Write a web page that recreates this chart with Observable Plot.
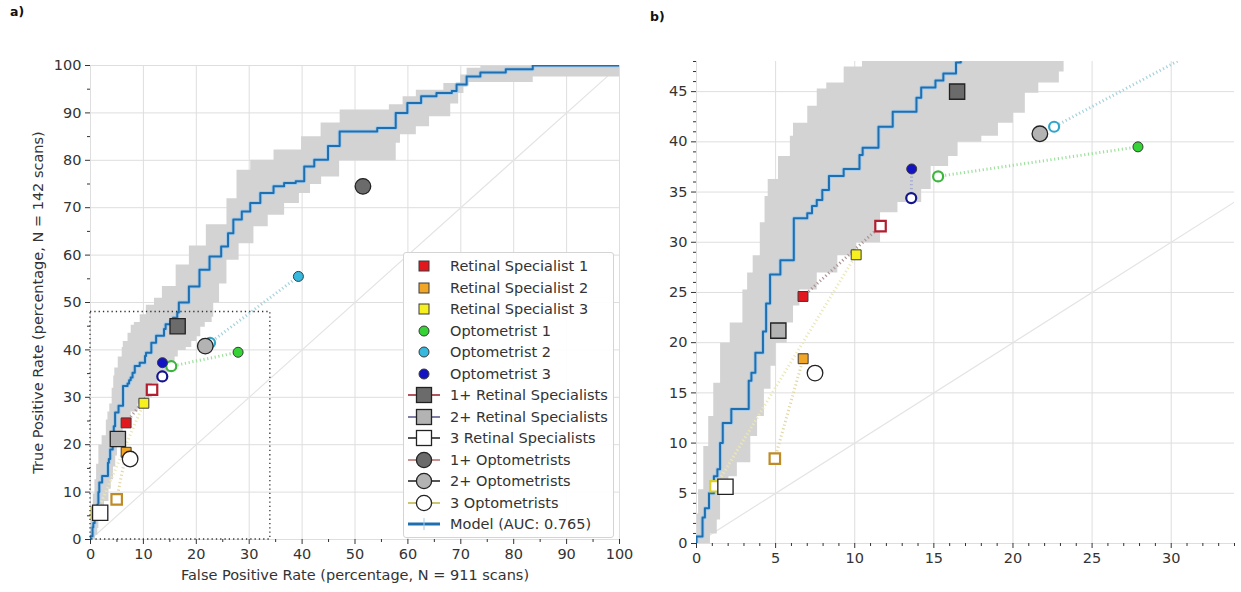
<!DOCTYPE html>
<html><head><meta charset="utf-8">
<script src="https://cdn.jsdelivr.net/npm/d3@7"></script>
<script src="https://cdn.jsdelivr.net/npm/@observablehq/plot@0.6"></script>
<style>
body{margin:0;background:#fff;font-family:"DejaVu Sans",sans-serif;}
#wrap{position:relative;width:1241px;height:592px;overflow:hidden;background:#fff;}
.panel{position:absolute;top:0;}
.tag{position:absolute;font-weight:bold;font-size:12.5px;color:#111;z-index:5;}
#legend{position:absolute;left:403px;top:252px;width:211px;height:286px;border:1px solid #d4d4d4;background:rgba(255,255,255,0.92);box-sizing:border-box;border-radius:3px;z-index:4;}
.row{position:absolute;left:0;height:20px;display:flex;align-items:center;font-size:14.5px;color:#333;white-space:nowrap;}
.row svg{margin-right:3px;}
</style></head><body>
<div id="wrap">
  <div id="pa" class="panel" style="left:0px;"></div>
  <div id="pb" class="panel" style="left:640px;"></div>
  <div id="legend"></div>
  <div class="tag" style="left:10px;top:4px;">a)</div>
  <div class="tag" style="left:650px;top:9px;">b)</div>
</div>
<script>
// ---------------- data ----------------
// Model ROC curve (step-after: at fpr[i] the curve rises to tpr[i])
const rocFpr = [0,0,0.38,0.53,0.79,1.1,1.32,1.49,1.66,2.2,3.3,3.47,3.72,4.2,4.4,4.65,5.3,6.15,7.0,7.3,7.6,7.95,8.37,9.3,10.3,10.5,11.5,12.4,13.9,14.2,15.1,15.6,16.4,16.7,18.6,20.6,22.5,24.7,26.0,27.0,28.6,30.2,32.1,34.6,36.6,38.8,40.4,42.3,44.9,47.1,54.2,57.7,59.9,62.5,65.4,68.3,69.2,71.1,73.7,78.5,83.6,100];
const rocTpr = [0,0.7,2.6,3.5,5.0,6.7,7.4,10.0,12.0,13.4,16.2,17.0,19.0,21.1,23.9,26.8,28.2,32.4,32.9,33.6,34.2,35.2,36.6,37.3,38.7,39.4,41.5,43.0,44.4,45.4,46.1,46.8,47.9,50.0,53.4,56.9,59.7,61.8,64.6,67.5,69.2,71.0,73.1,74.5,75.2,75.6,78.7,80.1,83.0,86.1,86.8,90.0,92.1,93.5,94.2,94.6,96.0,97.7,98.5,99.2,100,100];
// Confidence band: upper and lower bounds (step-after)
const upperFpr = [0,0.1,0.43,0.74,1.06,1.49,2.1,2.9,3.2,3.55,4.0,4.3,4.5,5.15,5.9,6.1,7.0,7.6,8.2,9.3,10.46,12.0,13.5,16.1,18.6,21.8,25.7,27.6,30.2,34.6,39.8,43.5,47.1,56.4,59.0,61.5,66.7,69.9,71.1,73.7,100];
const upperTpr = [3.0,5.4,9.7,12.7,16.0,20.0,22.0,25.3,27.0,28.7,32.0,34.6,36.3,38.6,40.6,41.9,43.6,45.3,45.9,47.5,49.5,51.0,53.5,58.0,62.0,66.5,72.0,78.0,80.1,82.3,85.1,88.0,90.7,91.8,93.5,94.9,96.3,98.1,99.5,100,100];
const lowerFpr = [0,0.85,1.28,1.49,2.02,2.55,3.4,3.83,4.26,4.68,5.0,5.7,6.1,6.5,7.6,8.9,10.1,11.6,12.7,14.2,14.8,15.9,16.5,18.0,19.05,20.0,20.75,21.6,22.9,23.2,24.3,25.7,28.0,30.8,33.5,36.6,39.4,41.5,43.6,47.0,57.7,58.5,61.5,64.0,68.0,69.5,70.5,71.0,83.6,100];
const lowerTpr = [0,1.0,2.4,5.4,6.7,8.1,10.7,12.7,15.4,17.7,20.0,22.0,23.7,25.3,27.0,28.7,30.0,33.0,34.0,35.3,37.6,38.6,40.0,40.6,41.9,42.9,44.9,45.9,47.0,50.0,54.0,59.0,62.5,66.1,68.5,71.0,73.1,75.0,76.6,80.0,83.7,85.5,87.2,89.3,92.0,94.2,95.6,96.5,97.7,97.7];

// Individual graders (filled markers) and their paired open markers
const graderNames = ["Retinal Specialist 1","Retinal Specialist 2","Retinal Specialist 3","Optometrist 1","Optometrist 2","Optometrist 3"];
const graderFpr = [6.73, 6.74, 10.09, 27.9, 39.3, 13.6];
const graderTpr = [24.6, 18.4, 28.75, 39.5, 55.5, 37.3];
const openFpr = [11.63, 4.95, 1.2, 15.27, 22.6, 13.57];
const openTpr = [31.6, 8.45, 5.7, 36.56, 41.5, 34.4];

// Consensus grades
const consensusNames = ["1+ Retinal Specialists","2+ Retinal Specialists","3 Retinal Specialists","1+ Optometrists","2+ Optometrists","3 Optometrists"];
const consensusFpr = [16.47, 5.17, 1.83, 51.5, 21.7, 7.49];
const consensusTpr = [45.0, 21.2, 5.65, 74.5, 40.8, 16.97];

const modelName = "Model (AUC: 0.765)";
const diagonal = [0, 100];
const zoomX = [0, 34];
const zoomY = [0, 48];
const xTitle = "False Positive Rate (percentage, N = 911 scans)";
const yTitle = "True Positive Rate (percentage, N = 142 scans)";

// ---------------- styles ----------------
const FS = 14.5;
const graderShape = ["square","square","square","circle","circle","circle"];
const graderFill = ["#e3171e","#f2a628","#f6f01e","#36d336","#35b9df","#1313c4"];
const openStroke = ["#b21d2f","#bf8b25","#d9d12a","#3db53d","#2fa6c8","#14148f"];
const dotStroke = ["#ad9595","#e2d7a6","#ece7b3","#9ee09e","#a6d2dc","#a5abd6"];
const consShape = ["square","square","square","circle","circle","circle"];
const consFill = ["#6b6b6b","#b3b3b3","#ffffff","#6b6b6b","#b3b3b3","#ffffff"];
const consLine = ["#b2545f","#7d7da6","#555555","#c99090","#555555","#c9c770"];
const BLUE = "#1f6fae";

// ---------------- derived tables ----------------
const roc = rocFpr.map((x, i) => ({x, y: rocTpr[i]}));
function steps(xs, ys) {
  const pts = [];
  for (let i = 0; i < xs.length; i++) {
    pts.push([xs[i], ys[i]]);
    if (i + 1 < xs.length) pts.push([xs[i + 1], ys[i]]);
  }
  return pts;
}
const band = steps(upperFpr, upperTpr).concat(steps(lowerFpr, lowerTpr).reverse());
const graders = graderNames.map((name, i) => ({name, x: graderFpr[i], y: graderTpr[i], ox: openFpr[i], oy: openTpr[i],
  shape: graderShape[i], fill: graderFill[i], open: openStroke[i], dot: dotStroke[i]}));
const consensus = consensusNames.map((name, i) => ({name, x: consensusFpr[i], y: consensusTpr[i], shape: consShape[i], fill: consFill[i]}));
const diag = diagonal.map(v => [v, v]);

function range(a, b, s) { const r = []; for (let v = a; v <= b + 1e-9; v += s) r.push(+v.toFixed(4)); return r; }

function panel(o) {
  const marks = [
    Plot.gridX(o.xMajor, {stroke: "#dedede", strokeOpacity: 1, strokeWidth: 1}),
    Plot.gridY(o.yMajor, {stroke: "#dedede", strokeOpacity: 1, strokeWidth: 1}),
    Plot.line(diag, {stroke: "#e4e4e4", strokeWidth: 1.2, clip: true}),
    Plot.line(band, {fill: "#d3d3d3", stroke: "none", clip: true}),
    Plot.line(roc, {x: "x", y: "y", curve: "step-after", stroke: "#a4cbeb", strokeWidth: 4, clip: true}),
    Plot.line(roc, {x: "x", y: "y", curve: "step-after", stroke: BLUE, strokeWidth: 2, clip: true}),
    Plot.link(graders, {x1: "x", y1: "y", x2: "ox", y2: "oy", stroke: "dot", strokeWidth: 3, strokeDasharray: "1.2,2.6", clip: true}),
    Plot.dot(graders.filter(d => d.shape === "square"), {x: "ox", y: "oy", symbol: "square", r: 5.9, fill: "white", stroke: "open", strokeWidth: 2.2, clip: true}),
    Plot.dot(graders.filter(d => d.shape === "circle"), {x: "ox", y: "oy", symbol: "circle", r: 5, fill: "white", stroke: "open", strokeWidth: 2.2, clip: true}),
    Plot.dot(graders.filter(d => d.shape === "square"), {x: "x", y: "y", symbol: "square", r: 5.6, fill: "fill", stroke: "#3a3a3a", strokeWidth: 1, clip: true}),
    Plot.dot(graders.filter(d => d.shape === "circle"), {x: "x", y: "y", symbol: "circle", r: 5, fill: "fill", stroke: "#3a3a3a", strokeWidth: 1, clip: true}),
    Plot.dot(consensus.filter(d => d.shape === "square"), {x: "x", y: "y", symbol: "square", r: 8.6, fill: "fill", stroke: "#222", strokeWidth: 1.3, clip: true}),
    Plot.dot(consensus.filter(d => d.shape === "circle"), {x: "x", y: "y", symbol: "circle", r: 7.8, fill: "fill", stroke: "#222", strokeWidth: 1.3, clip: true}),
    Plot.axisX(o.xMajor, {tickSize: 5, tickPadding: 4, fontSize: FS, color: "#333", label: null, tickFormat: d => String(d)}),
    Plot.axisX(o.xMinor, {tickSize: 3, tickFormat: () => "", color: "#333", label: null}),
    Plot.axisY(o.yMajor, {tickSize: 5, tickPadding: 4, fontSize: FS, color: "#333", label: null, tickFormat: d => String(d)}),
    Plot.axisY(o.yMinor, {tickSize: 3, tickFormat: () => "", color: "#333", label: null})
  ];
  if (o.extra) marks.push(...o.extra);
  return Plot.plot({
    width: o.width, height: o.height,
    marginLeft: o.ml, marginRight: o.mr, marginTop: o.mt, marginBottom: o.mb,
    x: {domain: o.xDomain}, y: {domain: o.yDomain},
    color: {type: "identity"},
    style: {fontFamily: "DejaVu Sans, sans-serif", background: "white", overflow: "visible"},
    marks
  });
}

const tenA = range(0, 100, 10), fiveA = range(5, 95, 10);
const a = panel({
  width: 640, height: 592, ml: 90, mr: 21, mt: 65, mb: 53,
  xDomain: [0, 100], yDomain: [0, 100],
  xMajor: tenA, xMinor: fiveA, yMajor: tenA, yMinor: fiveA,
  extra: [
    Plot.rect([{x1: zoomX[0], x2: zoomX[1], y1: zoomY[0], y2: zoomY[1]}], {x1: "x1", x2: "x2", y1: "y1", y2: "y2", fill: "none", stroke: "#333", strokeWidth: 1.3, strokeDasharray: "1.3,3"}),
    Plot.text([xTitle], {text: d => d, frameAnchor: "bottom", dy: 40, fontSize: FS, fill: "#333"}),
    Plot.text([yTitle], {text: d => d, frameAnchor: "left", dx: -52, rotate: -90, textAnchor: "middle", fontSize: FS, fill: "#333"})
  ]
});
document.getElementById("pa").appendChild(a);

const b = panel({
  width: 601, height: 592, ml: 56, mr: 7, mt: 61, mb: 49,
  xDomain: zoomX, yDomain: zoomY,
  xMajor: range(0, 30, 5), xMinor: range(0, 34, 1).filter(v => v % 5 !== 0),
  yMajor: range(0, 45, 5), yMinor: range(0, 48, 1).filter(v => v % 5 !== 0)
});
document.getElementById("pb").appendChild(b);

// ---------------- legend ----------------
const NS = "http://www.w3.org/2000/svg";
const leg = document.getElementById("legend");
function el(tag, attrs) { const e = document.createElementNS(NS, tag); for (const k in attrs) e.setAttribute(k, attrs[k]); return e; }
const entries = [];
graders.forEach(d => entries.push({label: d.name, kind: "grader", d}));
consensus.forEach((d, i) => entries.push({label: d.name, kind: "cons", d, line: consLine[i]}));
entries.push({label: modelName, kind: "model"});
entries.forEach((e, i) => {
  const row = document.createElement("div");
  row.className = "row";
  row.style.top = (3 + i * 21.5) + "px";
  const svg = el("svg", {width: 43, height: 20});
  const cx = 20, cy = 10;
  if (e.kind === "grader") {
    if (e.d.shape === "square") svg.appendChild(el("rect", {x: cx - 5, y: cy - 5, width: 10, height: 10, fill: e.d.fill, stroke: "#3a3a3a", "stroke-width": 1}));
    else svg.appendChild(el("circle", {cx, cy, r: 5, fill: e.d.fill, stroke: "#3a3a3a", "stroke-width": 1}));
  } else if (e.kind === "cons") {
    svg.appendChild(el("line", {x1: 4, x2: 36, y1: cy, y2: cy, stroke: e.line, "stroke-width": 2}));
    if (e.d.shape === "square") svg.appendChild(el("rect", {x: cx - 7.5, y: cy - 7.5, width: 15, height: 15, fill: e.d.fill, stroke: "#222", "stroke-width": 1.3}));
    else svg.appendChild(el("circle", {cx, cy, r: 7.6, fill: e.d.fill, stroke: "#222", "stroke-width": 1.3}));
  } else {
    svg.appendChild(el("line", {x1: 4, x2: 36, y1: cy, y2: cy, stroke: BLUE, "stroke-width": 3}));
    svg.appendChild(el("line", {x1: cx, x2: cx, y1: cy - 6, y2: cy + 6, stroke: "#a4cbeb", "stroke-width": 1}));
  }
  row.appendChild(svg);
  const t = document.createElement("span");
  t.textContent = e.label;
  row.appendChild(t);
  leg.appendChild(row);
});
</script></body></html>
